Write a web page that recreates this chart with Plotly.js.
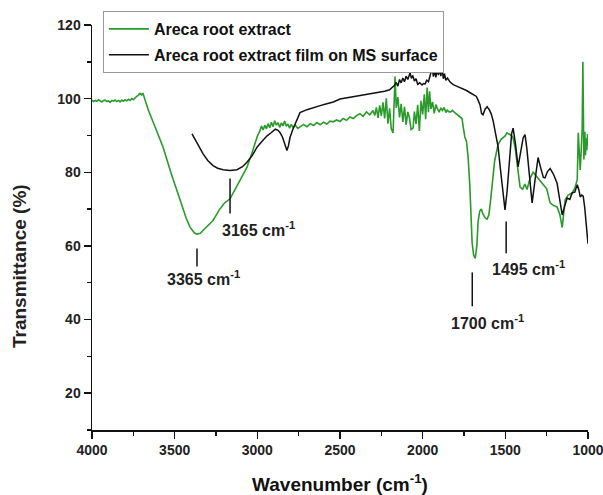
<!DOCTYPE html>
<html>
<head>
<meta charset="utf-8">
<script src="https://cdn.plot.ly/plotly-3.0.1.min.js"></script>
<style>html,body{margin:0;padding:0;background:#fff;}#chart{width:603px;height:495px;}</style>
</head>
<body>
<div id="chart"></div>
<script>
// Areca root extract (green)
const greenWavenumber = [4000,3990,3980,3970,3960,3950,3940,3930,3920,3910,3900,3890,3880,3870,3860,3850,3840,3830,3820,3810,3800,3790,3780,3770,3760,3750,3740,3730,3720,3710,3700,3692,3680,3660,3620,3570,3520,3468,3430,3407,3380,3365,3345,3320,3300,3268,3230,3200,3165,3120,3063,3030,3000,2984,2975,2965,2955,2945,2935,2925,2915,2905,2895,2885,2875,2865,2855,2845,2835,2825,2815,2805,2795,2785,2770,2755,2742,2720,2700,2680,2660,2640,2620,2600,2580,2560,2542,2520,2500,2480,2460,2440,2420,2400,2380,2360,2340,2320,2300,2290,2280,2270,2260,2250,2240,2230,2220,2210,2200,2190,2179,2167,2160,2150,2140,2130,2120,2110,2100,2090,2080,2070,2058,2050,2040,2030,2020,2010,2000,1990,1982,1973,1965,1958,1950,1940,1930,1920,1913,1900,1890,1880,1870,1860,1852,1840,1830,1820,1804,1790,1775,1762,1755,1745,1735,1725,1715,1708,1701,1692,1682,1672,1665,1655,1645,1635,1622,1610,1600,1590,1580,1565,1544,1525,1502,1490,1471,1455,1440,1425,1411,1395,1382,1369,1350,1332,1310,1290,1270,1250,1229,1210,1187,1170,1156,1147,1138,1120,1096,1080,1065,1059,1053,1047,1041,1035,1031,1028,1025,1022,1019,1015,1011,1007,1003,1000];
const greenTransmittance = [99.6,99.2,99.5,99.3,99.7,99.4,99.1,99.5,99.6,99.2,99.4,99.0,99.5,99.3,99.6,99.2,99.5,99.1,99.6,99.3,99.7,99.4,99.8,99.5,100.0,99.7,100.3,100.6,100.9,101.4,101.0,101.5,99.8,97.0,92.5,86.8,79.5,72.3,67.5,65.1,63.5,63.2,63.4,64.6,65.6,66.9,69.8,71.6,72.8,76.5,81.3,85.6,89.8,91.3,92.6,91.5,92.8,91.8,93.2,92.1,93.6,92.4,94.0,92.8,93.5,92.2,93.4,92.6,93.9,92.5,93.1,92.0,93.0,92.2,92.8,91.9,92.3,93.0,92.4,93.2,92.7,93.5,92.9,93.6,93.1,93.9,93.7,94.2,93.8,94.6,94.1,95.0,94.6,95.4,95.9,95.2,96.4,95.6,96.8,95.4,97.6,94.8,98.2,95.3,99.0,94.6,100.1,93.2,97.4,91.8,90.7,106.0,97.5,100.4,94.9,98.6,93.7,97.8,92.9,96.4,94.8,91.6,92.0,96.5,93.1,98.3,91.2,99.4,95.7,101.2,94.4,103.0,96.3,102.0,97.2,99.1,96.0,98.4,97.5,96.3,97.5,96.8,97.6,96.2,96.9,96.4,96.4,96.8,96.1,95.6,95.0,94.6,92.4,89.6,88.4,84.0,76.5,67.5,61.0,57.5,56.6,60.2,66.5,69.4,70.0,68.6,67.6,67.3,68.4,72.0,77.0,83.0,87.5,89.0,89.8,90.7,90.2,89.6,86.5,81.0,76.0,75.4,76.8,75.3,78.4,80.0,78.8,77.9,76.8,75.5,71.7,71.0,70.6,68.5,65.0,69.0,72.5,73.8,74.4,75.6,78.0,90.7,84.5,80.6,86.0,92.0,110.0,96.5,83.5,87.5,91.0,84.6,89.2,86.0,90.4,87.3,89.0];

// Areca root extract film on MS surface (black)
const blackWavenumber = [3395,3360,3328,3300,3268,3240,3207,3165,3123,3090,3063,3030,3002,2970,2941,2915,2891,2875,2863,2848,2833,2821,2812,2802,2787,2772,2757,2742,2700,2661,2620,2580,2540,2500,2460,2420,2380,2340,2300,2260,2230,2200,2185,2170,2160,2150,2140,2130,2120,2110,2100,2090,2076,2068,2060,2050,2040,2030,2018,2004,1995,1985,1975,1965,1955,1943,1935,1928,1920,1912,1905,1897,1890,1883,1875,1868,1860,1850,1834,1815,1795,1775,1755,1735,1713,1695,1675,1663,1653,1644,1635,1622,1610,1595,1585,1574,1560,1544,1530,1515,1502,1490,1478,1471,1462,1453,1438,1423,1405,1392,1381,1370,1355,1338,1320,1302,1285,1270,1260,1245,1229,1210,1187,1170,1156,1140,1126,1110,1096,1080,1065,1055,1047,1038,1029,1020,1012,1005,1000];
const blackTransmittance = [90.4,87.5,85.0,83.2,81.8,81.1,80.7,80.5,80.7,81.5,82.7,84.6,86.8,88.5,89.9,90.8,91.7,91.4,90.8,89.6,87.7,85.9,87.2,89.5,91.4,93.1,94.8,96.2,97.0,97.6,98.1,98.6,99.1,99.9,100.2,100.6,100.9,101.3,101.6,101.9,102.0,102.4,102.9,103.6,104.4,103.4,105.2,104.3,105.6,104.6,106.1,105.2,107.0,105.5,106.3,104.8,105.4,103.9,104.3,103.7,104.1,104.0,105.0,104.6,106.2,108.6,106.0,107.8,105.8,108.2,106.4,108.0,106.1,108.6,105.4,106.8,105.0,105.6,104.5,103.8,103.4,103.0,102.7,102.2,101.6,101.2,100.6,99.4,98.3,96.0,95.6,97.2,97.8,96.8,95.8,94.0,91.0,87.0,81.0,74.0,69.8,74.5,82.0,87.0,90.5,92.0,87.5,81.5,86.5,89.4,90.2,86.5,79.5,71.7,78.0,84.0,81.0,78.6,78.5,80.2,81.0,79.6,77.0,72.4,68.4,71.0,73.0,72.6,74.4,74.6,76.6,75.2,73.3,73.8,73.5,70.5,66.5,63.0,60.6];

// Peak labels
const peakWavenumbers = [3365, 3165, 1700, 1495];
const peakLabels = ['3365 cm<sup>-1</sup>', '3165 cm<sup>-1</sup>', '1700 cm<sup>-1</sup>', '1495 cm<sup>-1</sup>'];
const peakLineTop = [59.3, 78.3, 52.8, 66.6];
const peakLineBottom = [54.4, 68.8, 43.6, 58.0];
const peakTextX = [3323, 2990, 1608, 1357];
const peakTextY = [51.2, 64.7, 39.3, 53.9];

const FONT = 'Liberation Sans, Arial, Helvetica, sans-serif';

const traces = [
  {x: greenWavenumber, y: greenTransmittance, type: 'scatter', mode: 'lines',
   name: 'Areca root extract', line: {color: '#2a9a2a', width: 1.6}, legendgroup: 'a'},
  {x: blackWavenumber, y: blackTransmittance, type: 'scatter', mode: 'lines',
   name: 'Areca root extract film on MS surface', line: {color: '#111111', width: 1.5}, legendgroup: 'b'}
];

const shapes = peakWavenumbers.map((w, i) => ({
  type: 'line', xref: 'x', yref: 'y', x0: w, x1: w, y0: peakLineBottom[i], y1: peakLineTop[i],
  line: {color: '#111', width: 1.5}
}));

const annotations = peakLabels.map((t, i) => ({
  xref: 'x', yref: 'y', x: peakTextX[i], y: peakTextY[i], text: t, showarrow: false,
  font: {family: FONT, size: 16, color: '#222', weight: 'bold'}
}));
annotations.push({
  xref: 'paper', yref: 'paper', x: -0.145, y: 0.405, xanchor: 'center', yanchor: 'middle',
  text: 'Transmittance (%)', textangle: -90, showarrow: false,
  font: {family: FONT, size: 19, color: '#222', weight: 'bold'}
});

const layout = {
  width: 603, height: 495,
  margin: {l: 92, r: 15, t: 24, b: 65},
  paper_bgcolor: '#fff', plot_bgcolor: '#fff',
  showlegend: true,
  legend: {x: 0.022, y: 1.032, xanchor: 'left', yanchor: 'top', bgcolor: '#fff',
           bordercolor: '#999', borderwidth: 1, tracegroupgap: 2, itemwidth: 40,
           font: {family: FONT, size: 16, color: '#111', weight: 'bold'}},
  xaxis: {range: [4000, 1000], dtick: 500, tick0: 0, ticks: 'outside', ticklen: 7, tickwidth: 1.5,
          showline: true, linecolor: '#111', linewidth: 1.5, showgrid: false, zeroline: false,
          ticklabeloverflow: 'allow',
          minor: {dtick: 250, ticks: 'outside', ticklen: 4, tickwidth: 1.5, tickcolor: '#111', showgrid: false},
          tickcolor: '#111',
          tickfont: {family: FONT, size: 14, color: '#222', weight: 'bold'},
          title: {text: 'Wavenumber (cm<sup>-1</sup>)', standoff: 22,
                  font: {family: FONT, size: 19, color: '#111', weight: 'bold'}}},
  yaxis: {range: [10, 120], dtick: 20, tick0: 0, ticks: 'outside', ticklen: 7, tickwidth: 1.5,
          showline: true, linecolor: '#111', linewidth: 1.5, showgrid: false, zeroline: false,
          minor: {dtick: 10, ticks: 'outside', ticklen: 4, tickwidth: 1.5, tickcolor: '#111', showgrid: false},
          tickcolor: '#111',
          tickfont: {family: FONT, size: 14, color: '#222', weight: 'bold'}},
  shapes: shapes,
  annotations: annotations
};

Plotly.newPlot('chart', traces, layout, {displayModeBar: false, staticPlot: true});
</script>
</body>
</html>
